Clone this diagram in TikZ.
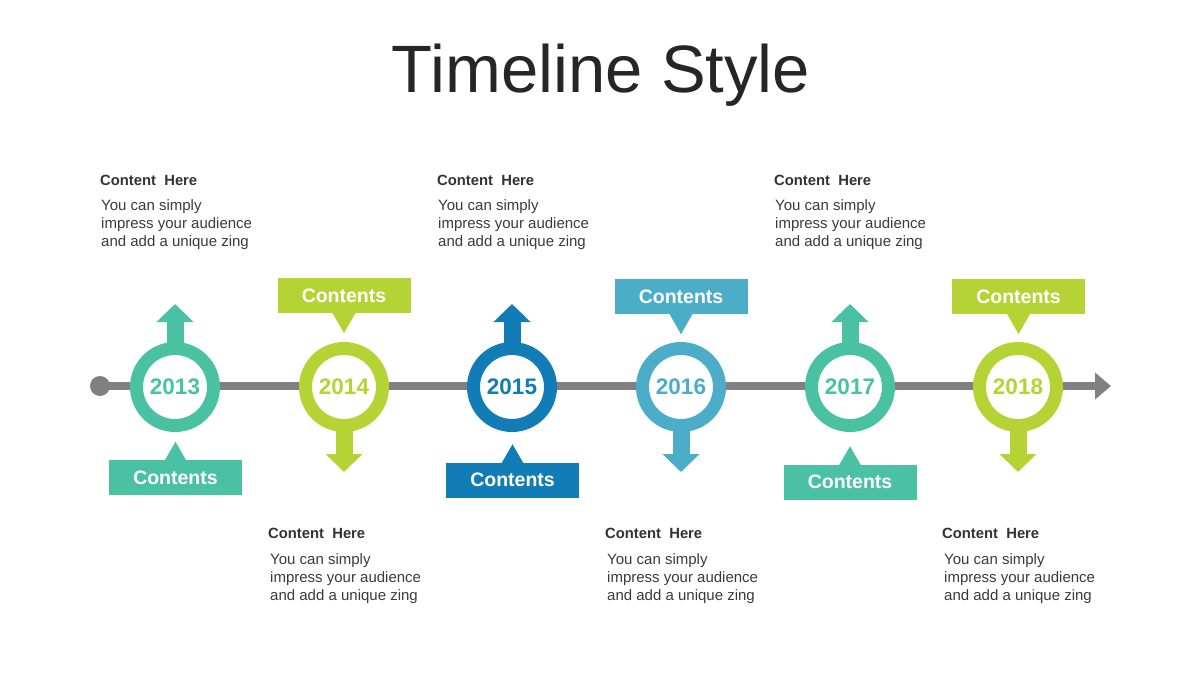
\documentclass[tikz,border=0pt]{standalone}
\usepackage{fontspec}
\setmainfont{Liberation Sans}
\usetikzlibrary{arrows.meta}
\definecolor{cteal}{HTML}{4BC1A3}
\definecolor{clime}{HTML}{B5D334}
\definecolor{cblue}{HTML}{127CB7}
\definecolor{clblue}{HTML}{4BADC8}
\definecolor{cgray}{HTML}{808080}
\definecolor{ctitle}{HTML}{262626}
\definecolor{chead}{HTML}{333333}
\definecolor{cbody}{HTML}{3A3A3A}
\begin{document}
\begin{tikzpicture}[x=1pt,y=-1pt,
  ring/.style={circle, draw=#1, line width=13pt, fill=white, minimum size=77pt, inner sep=0pt, text=#1, font=\fontsize{22.5}{22}\selectfont\bfseries},
  box/.style={fill=#1, minimum width=133pt, minimum height=35pt, inner sep=0pt, text=white, font=\fontsize{19.5}{20}\selectfont\bfseries},
  stemarrow/.style={draw=#1, line width=17pt, -{Triangle[length=18pt,width=36pt]}},
  heading/.style={anchor=base west, inner sep=0pt, text=chead, font=\fontsize{14.8}{18}\selectfont\bfseries},
  body/.style={anchor=north west, inner sep=0pt, align=left, text=cbody, font=\fontsize{15}{18}\selectfont},
  timeline/.style={draw=cgray, line width=8pt, -{Triangle[length=16pt,width=26pt]}}
]
\useasboundingbox (0,0) rectangle (1200,675);
% title
\node[anchor=base, inner sep=0pt, text=ctitle, font=\fontsize{67}{70}\selectfont] (title) at (601,92) {Timeline Style};
% timeline
\node[circle, fill=cgray, minimum size=20pt, inner sep=0pt] (dot) at (100,386) {};
\coordinate (tend) at (1111,386);
\draw[timeline] (dot.center) -- (tend);
% rings
\node[ring=cteal]  (y13) at (175,387) {2013};
\node[ring=clime]  (y14) at (344,387) {2014};
\node[ring=cblue]  (y15) at (512,387) {2015};
\node[ring=clblue] (y16) at (681,387) {2016};
\node[ring=cteal]  (y17) at (850,387) {2017};
\node[ring=clime]  (y18) at (1018,387) {2018};
% stem arrows
\coordinate (u13) at (175,304);
\coordinate (u15) at (512,304);
\coordinate (u17) at (850,304);
\coordinate (d14) at (344,472);
\coordinate (d16) at (681,472);
\coordinate (d18) at (1018,472);
\draw[stemarrow=cteal]  ([yshift=-4pt]y13.north) -- (u13);
\draw[stemarrow=cblue]  ([yshift=-4pt]y15.north) -- (u15);
\draw[stemarrow=cteal]  ([yshift=-4pt]y17.north) -- (u17);
\draw[stemarrow=clime]  ([yshift=4pt]y14.south) -- (d14);
\draw[stemarrow=clblue] ([yshift=4pt]y16.south) -- (d16);
\draw[stemarrow=clime]  ([yshift=4pt]y18.south) -- (d18);
% callout boxes
\node[box=cteal]  (b13) at (175.5,477.5) {Contents};
\node[box=clime]  (b14) at (344,295.5) {Contents};
\node[box=cblue]  (b15) at (512.5,480) {Contents};
\node[box=clblue] (b16) at (681,296.5) {Contents};
\node[box=cteal]  (b17) at (850,482) {Contents};
\node[box=clime]  (b18) at (1018.5,296.5) {Contents};
% pointers
\fill[cteal]  ([xshift=-11pt,yshift=-1pt]b13.north) -- ([xshift=11pt,yshift=-1pt]b13.north) -- ([yshift=18pt]b13.north) -- cycle;
\fill[cblue]  ([xshift=-11pt,yshift=-1pt]b15.north) -- ([xshift=11pt,yshift=-1pt]b15.north) -- ([yshift=18pt]b15.north) -- cycle;
\fill[cteal]  ([xshift=-11pt,yshift=-1pt]b17.north) -- ([xshift=11pt,yshift=-1pt]b17.north) -- ([yshift=18pt]b17.north) -- cycle;
\fill[clime]  ([xshift=-12pt,yshift=1pt]b14.south) -- ([xshift=12pt,yshift=1pt]b14.south) -- ([yshift=-20pt]b14.south) -- cycle;
\fill[clblue] ([xshift=-12pt,yshift=1pt]b16.south) -- ([xshift=12pt,yshift=1pt]b16.south) -- ([yshift=-20pt]b16.south) -- cycle;
\fill[clime]  ([xshift=-12pt,yshift=1pt]b18.south) -- ([xshift=12pt,yshift=1pt]b18.south) -- ([yshift=-20pt]b18.south) -- cycle;
% text blocks top
\node[heading] (h13) at (100,185) {Content\ \ Here};
\node[body] (t13) at (101,199.5) {You can simply\\impress your audience\\and add a unique zing};
\node[heading] (h15) at (437,185) {Content\ \ Here};
\node[body] (t15) at (438,199.5) {You can simply\\impress your audience\\and add a unique zing};
\node[heading] (h17) at (774,185) {Content\ \ Here};
\node[body] (t17) at (775,199.5) {You can simply\\impress your audience\\and add a unique zing};
% text blocks bottom
\node[heading] (h14) at (268,538) {Content\ \ Here};
\node[body] (t14) at (270,553.5) {You can simply\\impress your audience\\and add a unique zing};
\node[heading] (h16) at (605,538) {Content\ \ Here};
\node[body] (t16) at (607,553.5) {You can simply\\impress your audience\\and add a unique zing};
\node[heading] (h18) at (942,538) {Content\ \ Here};
\node[body] (t18) at (944,553.5) {You can simply\\impress your audience\\and add a unique zing};
\end{tikzpicture}
\end{document}
